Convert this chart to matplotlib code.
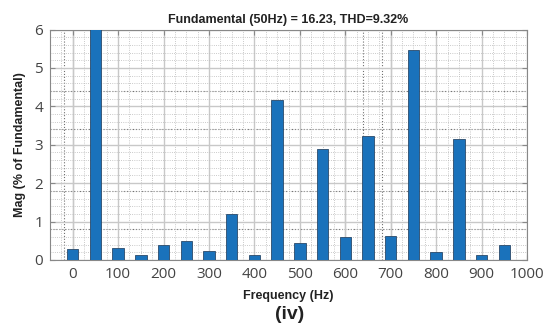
import matplotlib.pyplot as plt
from matplotlib.ticker import MultipleLocator

freqs = [0, 50, 100, 150, 200, 250, 300, 350, 400, 450,
         500, 550, 600, 650, 700, 750, 800, 850, 900, 950]
mags = [0.28, 100.0, 0.31, 0.13, 0.39, 0.49, 0.23, 1.21, 0.13, 4.17,
        0.45, 2.88, 0.61, 3.22, 0.63, 5.47, 0.20, 3.14, 0.14, 0.39]
xticks = [0, 100, 200, 300, 400, 500, 600, 700, 800, 900, 1000]
yticks = [0, 1, 2, 3, 4, 5, 6]

title = "Fundamental (50Hz) = 16.23, THD=9.32%"
lab_font = 'Liberation Sans'

fig = plt.figure(figsize=(5.53, 3.26), dpi=100)
ax = fig.add_axes([0.0904, 0.2025, 0.8626, 0.707])

ax.bar(freqs, mags, width=25, color='#1a72bb', edgecolor='#2a4a6a',
       linewidth=0.6, zorder=3)

ax.set_xlim(-50, 1000)
ax.set_ylim(0, 6)
ax.set_xticks(xticks)
ax.set_yticks(yticks)
ax.xaxis.set_minor_locator(MultipleLocator(25))
ax.yaxis.set_minor_locator(MultipleLocator(0.2))

ax.grid(which='major', color='#c8c8c8', linewidth=1.0, zorder=0)
ax.grid(which='minor', color='#b8b8b8', linestyle=':', linewidth=0.6, zorder=0)

# darker lines left over from the original rendering
for xv in [0, 600, 700]:
    ax.axvline(xv, color='#707070', linewidth=0.8, zorder=1)
for xv in [-20, 640, 680]:
    ax.axvline(xv, color='#707070', linestyle=':', linewidth=0.8, zorder=1)
for yv in [4.4, 3.4, 1.8, 0.8]:
    ax.axhline(yv, color='#707070', linestyle=':', linewidth=0.8, zorder=1)

for s in ax.spines.values():
    s.set_color('#888888')
ax.tick_params(which='both', direction='in', top=True, right=True,
               color='#888888')
ax.tick_params(which='major', labelsize=11, labelcolor='#444444', pad=5)
ax.tick_params(which='minor', length=0)
for lab in ax.get_xticklabels() + ax.get_yticklabels():
    lab.set_family('Open Sans')

ax.set_title(title, fontsize=9, fontweight='bold', family=lab_font, pad=5,
             color='#222222')
ax.set_xlabel('Frequency (Hz)', fontsize=9, fontweight='bold',
              family=lab_font, labelpad=6, color='#222222')
ax.set_ylabel('Mag (% of Fundamental)', fontsize=9, fontweight='bold',
              family=lab_font, labelpad=6, color='#222222')
fig.text(0.524, 0.02, '(iv)', fontsize=14, fontweight='bold', family=lab_font,
         ha='center', color='#222222')

fig.savefig('out.png', dpi=100)
